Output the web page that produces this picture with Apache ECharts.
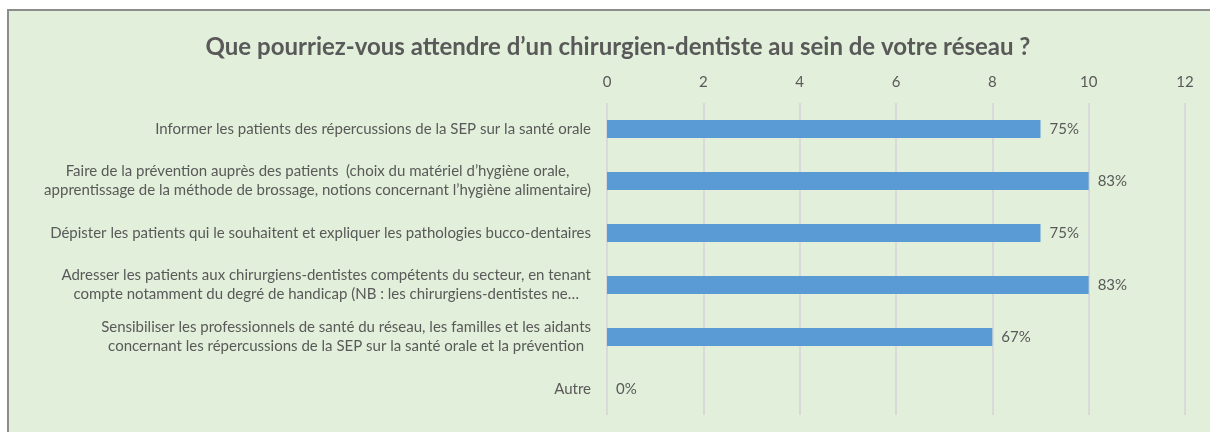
<!DOCTYPE html>
<html>
<head>
<meta charset="utf-8">
<script src="https://cdn.jsdelivr.net/npm/echarts@6/dist/echarts.min.js"></script>
<style>
  html, body { margin: 0; padding: 0; background: #fff; }
  #main { width: 1210px; height: 432px; }
</style>
</head>
<body>
<div id="main"></div>
<script>
// données
var categories = [
	'Informer les patients des répercussions de la SEP sur la santé orale',
	'Faire de la prévention auprès des patients  (choix du matériel d’hygiène orale,\napprentissage de la méthode de brossage, notions concernant l’hygiène alimentaire)',
	'Dépister les patients qui le souhaitent et expliquer les pathologies bucco-dentaires',
	'Adresser les patients aux chirurgiens-dentistes compétents du secteur, en tenant\ncompte notamment du degré de handicap (NB : les chirurgiens-dentistes ne…',
	'Sensibiliser les professionnels de santé du réseau, les familles et les aidants\nconcernant les répercussions de la SEP sur la santé orale et la prévention',
	'Autre'
];
var counts = [9, 10, 9, 10, 8, 0];
var pctLabels = ['75%', '83%', '75%', '83%', '67%', '0%'];
var xTicks = [0, 2, 4, 6, 8, 10, 12];

var myChart = echarts.init(document.getElementById('main'));

var txt = '#595959';
var font = 'Lato, "Open Sans", sans-serif';

var option = {
	backgroundColor : '#ffffff',
	textStyle : { fontFamily : font },
	graphic : [ {
		type : 'rect',
		shape : { x : 8, y : 10, width : 1220, height : 440 },
		style : { fill : '#E2EFDA', stroke : '#8C8C8C', lineWidth : 2 },
		z : -10
	} ],
	title : {
		text : 'Que pourriez-vous attendre d’un chirurgien-dentiste au sein de votre réseau ?',
		left : 613,
		top : 30,
		textAlign : 'center',
		textStyle : { fontFamily : font, fontSize : 24, fontWeight : 'bold', color : txt }
	},
	grid : { left : 607, right : 25, top : 103, bottom : 17 },
	xAxis : {
		type : 'value',
		position : 'top',
		min : xTicks[0],
		max : xTicks[xTicks.length - 1],
		interval : 2,
		axisLine : { show : false },
		axisTick : { show : false },
		axisLabel : { color : txt, fontSize : 15, margin : 13, fontFamily : font },
		splitLine : { lineStyle : { color : '#D9D9D9', width : 2 } }
	},
	yAxis : {
		type : 'category',
		inverse : true,
		data : categories,
		axisLine : { show : false },
		axisTick : { show : false },
		axisLabel : {
			margin : 16,
			formatter : function(v) {
				return v.split('\n').map(function(l) { return '{c|' + l + '}'; }).join('\n');
			},
			rich : {
				c : { align : 'center', color : txt, fontSize : 15, fontFamily : font, lineHeight : 19 }
			}
		}
	},
	series : [ {
		type : 'bar',
		data : counts,
		barWidth : 18,
		itemStyle : { color : '#5B9BD5' },
		label : {
			show : true,
			position : 'right',
			distance : 9,
			color : txt,
			fontSize : 15,
			fontFamily : font,
			formatter : function(p) { return pctLabels[p.dataIndex]; }
		}
	} ]
};

myChart.setOption(option);
</script>
</body>
</html>
